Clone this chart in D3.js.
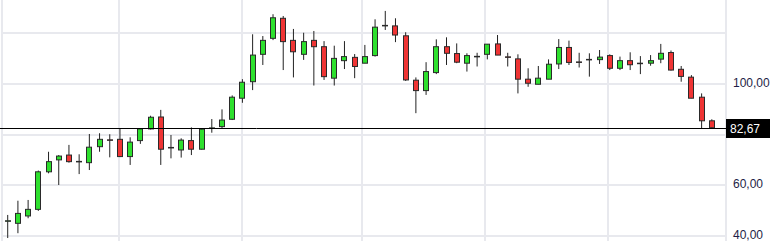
<!DOCTYPE html>
<html>
<head>
<meta charset="utf-8">
<script src="https://cdn.jsdelivr.net/npm/d3@7"></script>
<style>
  body { margin: 0; background: #fff; }
  svg { display: block; font-family: "Liberation Sans", Arial, sans-serif; }
</style>
</head>
<body>
<script>
// weekly candles
var opens  = [45.8, 45.0, 47.9, 50.5, 65.3, 70.0, 71.9, 69.4, 68.9, 75.2,
              77.9, 78.1, 71.3, 77.6, 82.2, 86.9, 74.7, 73.9, 77.6, 74.2,
              82.4, 83.1, 86.0, 94.3, 100.8, 111.6, 117.9, 125.8, 117.1, 111.6,
              117.1, 114.6, 102.2, 109.1, 110.4, 108.1, 111.1, 122.8, 122.8, 118.9,
              101.4, 97.3, 104.4, 114.6, 111.9, 108.1, 110.6, 111.6, 115.7, 110.6,
              109.8, 101.8, 99.8, 101.8, 107.8, 114.3, 108.6, 109.6, 109.5, 111.1,
              106.1, 109.1, 108.1, 108.1, 109.7, 112.3, 105.7, 102.6, 94.7, 85.4];
var highs  = [48.3, 53.9, 54.2, 65.8, 73.2, 71.9, 75.9, 72.2, 80.2, 80.5,
              80.1, 82.4, 78.9, 82.5, 87.4, 89.7, 79.8, 78.5, 82.8, 82.5,
              86.1, 89.9, 95.4, 101.8, 119.5, 118.8, 127.4, 126.7, 121.6, 120.1,
              120.8, 116.8, 115.0, 116.8, 111.7, 115.3, 125.4, 128.7, 125.8, 120.3,
              102.5, 108.5, 117.5, 118.3, 115.9, 112.0, 112.2, 115.6, 119.2, 112.2,
              111.6, 106.1, 107.0, 109.6, 117.6, 117.0, 112.2, 112.0, 113.3, 111.6,
              110.7, 112.4, 110.9, 111.3, 115.7, 113.1, 107.0, 103.4, 96.2, 86.0];
var lows   = [39.2, 41.1, 47.0, 49.9, 64.7, 60.1, 68.9, 64.4, 66.0, 73.2,
              71.0, 71.1, 68.0, 76.3, 82.0, 68.0, 70.6, 70.9, 71.9, 74.1,
              80.7, 82.5, 85.7, 92.5, 97.5, 107.4, 117.2, 105.4, 102.5, 109.4,
              99.3, 101.5, 99.3, 105.8, 102.2, 108.1, 110.7, 121.2, 116.4, 101.1,
              88.4, 95.6, 103.8, 107.4, 108.1, 104.8, 106.8, 109.6, 111.3, 106.8,
              96.2, 98.8, 99.8, 101.8, 105.8, 107.4, 106.4, 102.8, 107.8, 105.4,
              105.4, 105.4, 103.8, 107.1, 108.1, 105.2, 100.8, 94.3, 82.4, 82.5];
var closes = [46.0, 48.9, 50.5, 65.3, 69.3, 71.5, 69.3, 69.2, 75.0, 78.1,
              77.7, 71.3, 77.0, 82.2, 86.8, 74.2, 74.9, 77.8, 74.2, 82.1,
              82.6, 85.7, 94.7, 100.6, 111.3, 117.1, 126.0, 116.6, 112.6, 116.6,
              114.6, 102.8, 110.0, 110.7, 106.8, 110.7, 122.3, 123.0, 119.2, 101.5,
              97.3, 104.8, 114.6, 112.0, 108.5, 111.1, 110.8, 115.6, 111.3, 110.4,
              101.8, 100.2, 102.2, 107.7, 114.3, 108.4, 108.4, 109.4, 110.5, 106.1,
              109.1, 107.5, 107.9, 109.1, 112.0, 105.4, 102.9, 94.3, 85.4, 82.67];

var yTicks = [40, 60, 80, 100, 120];       // horizontal grid
var yLabels = [40, 60, 100];               // labels shown on the right
var xGrid = [-0.56, 10.94, 22.92, 34.75, 46.81, 58.78, 70.39]; // month lines (in candle index units)
var lastPrice = 82.67;

var width = 778, height = 241,
    plot = {left: 2, right: 726, top: 33, bottom: 236};

var data = opens.map(function(o, i) {
  return {i: i, o: o, h: highs[i], l: lows[i], c: closes[i]};
});

var xScale = d3.scaleLinear().domain([xGrid[0], xGrid[xGrid.length - 1]]).range([plot.left, plot.right]),
    yScale = d3.scaleLinear().domain([40, 120]).range([plot.bottom, plot.top]);

var fmt = function(v) { return d3.format(".2f")(v).replace(".", ","); };

var svg = d3.select("body").append("svg")
    .attr("width", width)
    .attr("height", height);

// grid
svg.append("g").selectAll("line")
    .data(yTicks)
  .enter().append("line")
    .attr("x1", plot.left).attr("x2", plot.right)
    .attr("y1", function(d) { return Math.round(yScale(d)); })
    .attr("y2", function(d) { return Math.round(yScale(d)); })
    .style("stroke", "#e8e9ee")
    .style("stroke-width", 2);

svg.append("g").selectAll("line")
    .data(xGrid)
  .enter().append("line")
    .attr("x1", function(d) { return Math.round(xScale(d)); })
    .attr("x2", function(d) { return Math.round(xScale(d)); })
    .attr("y1", 0).attr("y2", height)
    .style("stroke", "#e8e9ee")
    .style("stroke-width", 2);

// y labels
svg.append("g").selectAll("text")
    .data(yLabels)
  .enter().append("text")
    .attr("x", 733)
    .attr("y", function(d) { return yScale(d) + 3; })
    .style("font-size", "12px")
    .style("fill", "#1e1e46")
    .text(fmt);

// candles
var candle = svg.append("g").selectAll("g")
    .data(data)
  .enter().append("g");

candle.append("line")
    .attr("x1", function(d) { return xScale(d.i); })
    .attr("x2", function(d) { return xScale(d.i); })
    .attr("y1", function(d) { return yScale(d.h); })
    .attr("y2", function(d) { return yScale(d.l); })
    .style("stroke", "#222")
    .style("stroke-width", 1);

candle.append("rect")
    .attr("x", function(d) { return Math.round(xScale(d.i)) - 2.5; })
    .attr("width", 5)
    .attr("y", function(d) { return yScale(Math.max(d.o, d.c)); })
    .attr("height", function(d) { return Math.max(0.5, Math.abs(yScale(d.o) - yScale(d.c))); })
    .style("fill", function(d) { return d.c >= d.o ? "#2ee02e" : "#ef3434"; })
    .style("stroke", "#2a2a2a")
    .style("stroke-width", 1);

// last price line and tag
var yLast = Math.round(yScale(lastPrice)) + 0.5;
svg.append("line")
    .attr("x1", 0).attr("x2", plot.right)
    .attr("y1", yLast).attr("y2", yLast)
    .style("stroke", "#000")
    .style("stroke-width", 1);

svg.append("rect")
    .attr("x", plot.right)
    .attr("y", yLast - 9.5)
    .attr("width", 44)
    .attr("height", 19)
    .style("fill", "#000");

svg.append("text")
    .attr("x", 730)
    .attr("y", yLast + 4.5)
    .style("font-size", "12px")
    .style("fill", "#fff")
    .text(fmt(lastPrice));
</script>
</body>
</html>
